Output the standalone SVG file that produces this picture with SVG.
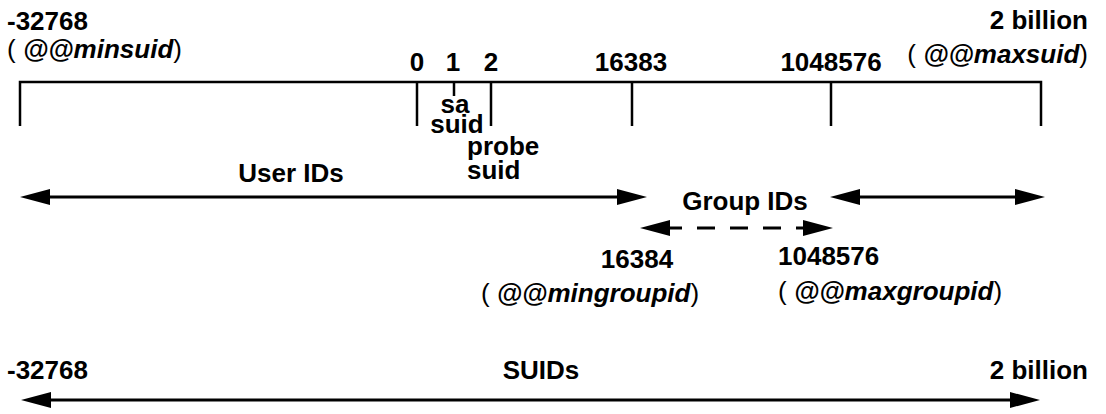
<svg xmlns="http://www.w3.org/2000/svg" width="1106" height="414" viewBox="0 0 1106 414">
<style>
text{font-family:"Liberation Sans",Arial,sans-serif;font-size:26px;font-weight:bold;fill:#000}
.p{font-weight:normal}
.bi{font-style:italic;font-weight:bold}
.axis{fill:none;stroke:#000;stroke-width:2.5}
.arr{fill:none;stroke:#000;stroke-width:3}
.dash{stroke-dasharray:18 15;stroke-dashoffset:19}
.mid{text-anchor:middle}
.end{text-anchor:end}
</style>
<defs>
<marker id="ah" markerUnits="userSpaceOnUse" markerWidth="30" markerHeight="16" refX="20" refY="8" orient="auto-start-reverse" overflow="visible">
<path d="M0,0 L30,8 L0,16 Z" fill="#000"/>
</marker>
</defs>
<rect width="1106" height="414" fill="#fff"/>
<g id="scale">
<path class="axis" d="M20,126 V82 H1041 V126 M417,82 V126 M454,82 V96 M491,82 V126 M632,82 V126 M831,82 V126"/>
</g>
<g id="labels-top">
<text x="7" y="30">-32768</text>
<text x="7" y="58"><tspan class="p">( </tspan><tspan class="bi">@@minsuid</tspan><tspan class="p">)</tspan></text>
<text class="end" x="1088" y="29">2 billion</text>
<text class="end" x="1088" y="63"><tspan class="p">( </tspan><tspan class="bi">@@maxsuid</tspan><tspan class="p">)</tspan></text>
<text class="mid" x="417" y="71">0</text>
<text class="mid" x="453" y="71">1</text>
<text class="mid" x="491" y="71">2</text>
<text class="mid" x="631" y="71">16383</text>
<text class="mid" x="831" y="71">1048576</text>
</g>
<g id="sa-suid">
<text class="mid" x="455" y="113">sa</text>
<text class="mid" x="457" y="133">suid</text>
</g>
<g id="probe-suid">
<text x="467" y="155">probe</text>
<text x="467" y="179">suid</text>
</g>
<g id="user-ids">
<text class="mid" x="291" y="182">User IDs</text>
</g>
<g id="group-ids">
<text class="mid" x="745" y="210">Group IDs</text>
<text class="mid" x="637" y="268">16384</text>
<text class="mid" x="590" y="302"><tspan class="p">( </tspan><tspan class="bi">@@mingroupid</tspan><tspan class="p">)</tspan></text>
<text x="778" y="265">1048576</text>
<text x="778" y="300"><tspan class="p">( </tspan><tspan class="bi">@@maxgroupid</tspan><tspan class="p">)</tspan></text>
</g>
<g id="suids">
<text x="7" y="379">-32768</text>
<text class="mid" x="541" y="379">SUIDs</text>
<text class="end" x="1088" y="379">2 billion</text>
</g>
<g id="connectors">
<path class="arr" d="M30,197 H637" marker-start="url(#ah)" marker-end="url(#ah)"/>
<path class="arr" d="M840,197 H1035" marker-start="url(#ah)" marker-end="url(#ah)"/>
<path class="arr dash" d="M650,228 H823" marker-start="url(#ah)" marker-end="url(#ah)"/>
<path class="arr" d="M31,400 H1030" marker-start="url(#ah)" marker-end="url(#ah)"/>
</g>
</svg>
